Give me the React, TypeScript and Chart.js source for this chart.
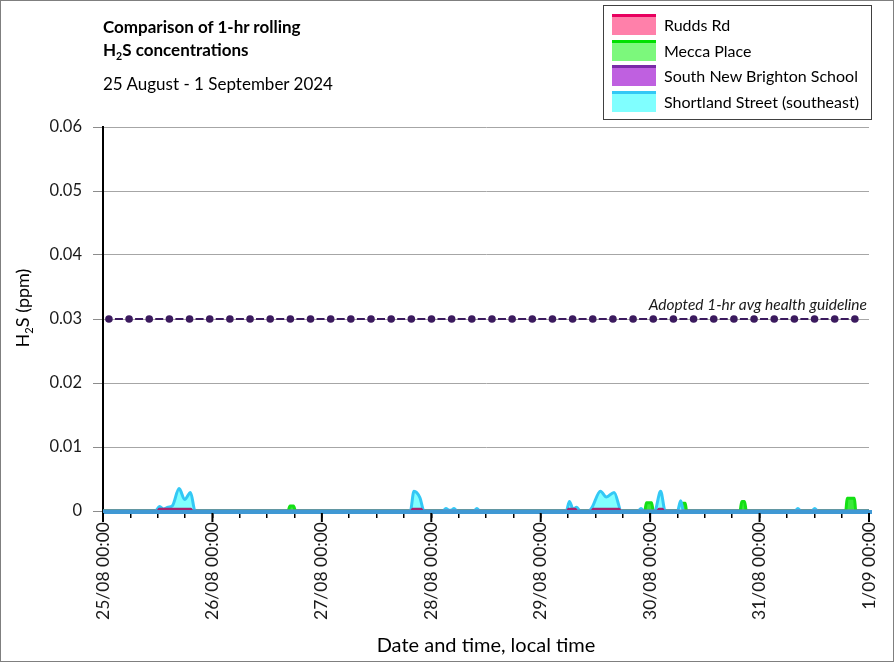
import React, { useEffect, useRef } from 'react';
import { Chart, registerables } from 'chart.js';

Chart.register(...registerables);

// ---------- data ----------
const X_TICK_LABELS = ['25/08 00:00', '26/08 00:00', '27/08 00:00', '28/08 00:00', '29/08 00:00', '30/08 00:00', '31/08 00:00', '1/09 00:00'];
const Y_TICKS_MAX = 0.06;
const Y_STEP = 0.01;

// hours since 25/08 00:00
const RUDDS_HOURS = [0, 12.0, 12.3, 19.3, 19.6, 67.6, 67.9, 69.8, 70.1, 101.8, 102.1, 103.6, 103.9, 107.2, 107.5, 113.2, 113.5, 121.6, 121.9, 122.7, 123.0, 168];
const RUDDS_PPM = [0, 0, 0.0003, 0.0003, 0, 0, 0.0003, 0.0003, 0, 0, 0.0003, 0.0003, 0, 0, 0.0003, 0.0003, 0, 0, 0.0003, 0.0003, 0, 0];

const MECCA_HOURS = [0, 40.6, 41.0, 41.8, 42.2, 118.8, 119.2, 120.3, 120.7, 126.8, 127.1, 127.7, 128.0, 139.7, 140.1, 140.7, 141.1, 162.9, 163.2, 164.8, 165.1, 168];
const MECCA_PPM = [0, 0, 0.0008, 0.0008, 0, 0, 0.0013, 0.0013, 0, 0, 0.0012, 0.0012, 0, 0, 0.0015, 0.0015, 0, 0, 0.002, 0.002, 0, 0];

const SNB_HOURS = [0, 168];
const SNB_PPM = [0, 0];

const SHORTLAND_HOURS = [0, 11.5, 12.4, 13.3, 14.3, 15.2, 16.7, 17.9, 19.2, 20.2, 67.4, 68.2, 69.5, 70.4, 74.6, 75.2, 75.9, 76.4, 77.0, 77.6, 81.4, 82.0, 82.6, 101.6, 102.3, 103.1, 103.9, 104.6, 106.5, 107.2, 109.1, 110.4, 112.1, 113.7, 117.4, 118.0, 118.6, 121.0, 122.3, 123.3, 126.0, 126.7, 127.3, 151.8, 152.4, 153.0, 155.5, 156.1, 156.7, 168];
const SHORTLAND_PPM = [0, 0, 0.0007, 0.0003, 0.0006, 0.0008, 0.0035, 0.0018, 0.0029, 0, 0, 0.0031, 0.0021, 0, 0, 0.0004, 0.0001, 0.0001, 0.0004, 0, 0, 0.0004, 0, 0, 0.0015, 0.0003, 0.0006, 0, 0, 0.0005, 0.0031, 0.0022, 0.0029, 0, 0, 0.0004, 0, 0, 0.0031, 0, 0, 0.0016, 0, 0, 0.0004, 0, 0, 0.0004, 0, 0];

const GUIDELINE_PPM = 0.03;
const GUIDELINE_LABEL = 'Adopted 1-hr avg health guideline';
const GUIDELINE_START_HOUR = 1.3;
const GUIDELINE_END_HOUR = 164.9;
const GUIDELINE_MARKERS = 38;

const SERIES_NAMES = ['Rudds Rd', 'Mecca Place', 'South New Brighton School', 'Shortland Street (southeast)'];
const LEGEND_LINE = ['#e8005f', '#00e000', '#7a2ba8', '#33c8f5'];
const LEGEND_FILL = ['#ff80aa', '#7cf87c', '#bf60e0', '#80ffff'];
const PLOT_LINE = ['#a8226f', '#14e014', '#7a2ba8', '#33c8f5'];
const PLOT_FILL = ['#d0407f', '#3aea3a', '#bf60e0', '#80ffff'];

const FONT = 'Lato, "Open Sans", sans-serif';

const toPoints = (hours: number[], ppm: number[]) => hours.map((h, i) => ({ x: h, y: ppm[i] }));

const overlayPlugin = {
  id: 'overlay',
  afterDatasetsDraw(chart: any) {
    const { ctx, chartArea, scales } = chart;
    const x = scales.x;
    const y = scales.y;
    const y0 = y.getPixelForValue(0);
    ctx.save();
    // baseline
    ctx.strokeStyle = '#3f98d4';
    ctx.lineWidth = 4;
    ctx.beginPath();
    ctx.moveTo(chartArea.left, y0 + 1);
    ctx.lineTo(chartArea.right + 3, y0 + 1);
    ctx.stroke();
    // major ticks
    ctx.strokeStyle = '#000';
    ctx.lineWidth = 2;
    X_TICK_LABELS.forEach((_, d) => {
      const px = x.getPixelForValue(d * 24);
      ctx.beginPath();
      ctx.moveTo(px, y0 + 2);
      ctx.lineTo(px, y0 + 11);
      ctx.stroke();
    });
    // guideline label
    ctx.fillStyle = '#1a1a1a';
    ctx.font = 'italic 15.5px ' + FONT;
    ctx.textAlign = 'right';
    ctx.textBaseline = 'alphabetic';
    ctx.fillText(GUIDELINE_LABEL, chartArea.right - 2, y.getPixelForValue(GUIDELINE_PPM) - 9);
    ctx.restore();
  },
};

export default function App() {
  const canvasRef = useRef<HTMLCanvasElement | null>(null);

  useEffect(() => {
    if (!canvasRef.current) return;
    const guidePoints = Array.from({ length: GUIDELINE_MARKERS }, (_, i) => ({
      x: GUIDELINE_START_HOUR + (i * (GUIDELINE_END_HOUR - GUIDELINE_START_HOUR)) / (GUIDELINE_MARKERS - 1),
      y: GUIDELINE_PPM,
    }));
    const seriesData = [
      toPoints(RUDDS_HOURS, RUDDS_PPM),
      toPoints(MECCA_HOURS, MECCA_PPM),
      toPoints(SNB_HOURS, SNB_PPM),
      toPoints(SHORTLAND_HOURS, SHORTLAND_PPM),
    ];
    const orderMap = [1, 3, 4, 2];
    const chart = new Chart(canvasRef.current, {
      type: 'line',
      data: {
        datasets: [
          {
            label: GUIDELINE_LABEL,
            data: guidePoints,
            borderColor: '#3b1a5e',
            borderWidth: 2,
            borderDash: [8, 12.16],
            borderDashOffset: -6,
            pointRadius: 3.8,
            pointBackgroundColor: '#3b1a5e',
            pointBorderWidth: 0,
            fill: false,
            tension: 0,
            order: 0,
          } as any,
          ...SERIES_NAMES.map((name, i) => ({
            label: name,
            data: seriesData[i],
            borderColor: PLOT_LINE[i],
            backgroundColor: PLOT_FILL[i],
            borderWidth: i === 0 ? 2.5 : 3,
            pointRadius: 0,
            fill: 'origin',
            cubicInterpolationMode: 'monotone',
            order: orderMap[i],
          })),
        ],
      },
      options: {
        animation: false,
        responsive: false,
        layout: { padding: { top: 127, right: 25, left: 0, bottom: 0 } },
        plugins: { legend: { display: false }, tooltip: { enabled: false } },
        scales: {
          x: {
            type: 'linear',
            min: 0,
            max: 168,
            afterFit: (s: any) => { s.height = 151; },
            ticks: {
              stepSize: 6,
              maxTicksLimit: 100,
              autoSkip: false,
              minRotation: 90,
              maxRotation: 90,
              padding: 4,
              color: '#1a1a1a',
              font: { family: FONT, size: 17.5 },
              callback: (v: any) => (Number(v) % 24 === 0 ? X_TICK_LABELS[Number(v) / 24] : ''),
            },
            grid: { display: true, drawOnChartArea: false, drawTicks: true, tickLength: 7, color: '#000', lineWidth: 1.5 },
            border: { display: false },
          },
          y: {
            min: 0,
            max: Y_TICKS_MAX,
            afterFit: (s: any) => { s.width = 103; },
            ticks: {
              stepSize: Y_STEP,
              padding: 11,
              color: '#1a1a1a',
              font: { family: FONT, size: 16.5 },
              callback: (v: any) => (Number(v) === 0 ? '0' : Number(v).toFixed(2)),
            },
            grid: { color: '#a6a6a6', tickColor: '#8c8c8c', tickLength: 10, lineWidth: 1 },
            border: { color: '#000', width: 2 },
          },
        },
      } as any,
      plugins: [overlayPlugin],
    });
    return () => chart.destroy();
  }, []);

  const sub: React.CSSProperties = { fontSize: '0.62em', position: 'relative', top: '0.35em' };

  return (
    <div style={{ position: 'fixed', left: 0, top: 0, width: 894, height: 662, background: '#fff', fontFamily: FONT, color: '#000', overflow: 'hidden' }}>
      <canvas ref={canvasRef} width={894} height={662} style={{ position: 'absolute', left: 0, top: 0 }} />
      <div style={{ position: 'absolute', left: 0, top: 0, width: 894, height: 662, boxSizing: 'border-box', border: '1px solid #7f7f7f', pointerEvents: 'none' }} />
      <div style={{ position: 'absolute', left: 103, top: 15, fontWeight: 700, fontSize: 17, lineHeight: '23px', whiteSpace: 'nowrap' }}>
        <div>Comparison of 1-hr rolling</div>
        <div>H<span style={sub}>2</span>S concentrations</div>
      </div>
      <div style={{ position: 'absolute', left: 103, top: 73, fontSize: 17, lineHeight: '22px', whiteSpace: 'nowrap' }}>25 August - 1 September 2024</div>
      <div style={{ position: 'absolute', left: 22, top: 308, transform: 'translate(-50%, -50%) rotate(-90deg)', fontSize: 18, whiteSpace: 'nowrap' }}>
        H<span style={sub}>2</span>S (ppm)
      </div>
      <div style={{ position: 'absolute', left: 486, top: 632, transform: 'translateX(-50%)', fontSize: 20, whiteSpace: 'nowrap' }}>Date and time, local time</div>
      <div style={{ position: 'absolute', left: 603, top: 5, width: 269, height: 115, boxSizing: 'border-box', border: '1px solid #404040', background: '#fff' }}>
        {SERIES_NAMES.map((name, i) => (
          <div key={name} style={{ position: 'absolute', left: 8, top: 8 + i * 25.5, height: 21, display: 'flex', alignItems: 'center' }}>
            <div style={{ width: 44, height: 21, boxSizing: 'border-box', background: LEGEND_FILL[i], borderTop: `3px solid ${LEGEND_LINE[i]}` }} />
            <div style={{ marginLeft: 8, fontSize: 16, whiteSpace: 'nowrap' }}>{name}</div>
          </div>
        ))}
      </div>
    </div>
  );
}
